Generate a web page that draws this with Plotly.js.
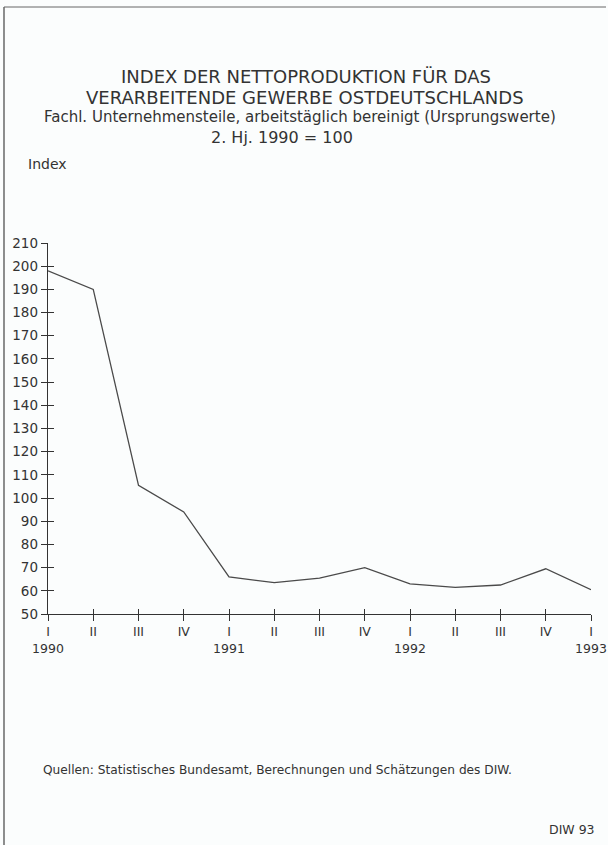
<!DOCTYPE html>
<html>
<head>
<meta charset="utf-8">
<script src="https://cdn.plot.ly/plotly-3.0.1.min.js"></script>
<style>html,body{margin:0;padding:0;background:#fbfdfd;}#chart{width:608px;height:845px;}</style>
</head>
<body>
<div id="chart"></div>
<script>
// Data
const periods = [0,1,2,3,4,5,6,7,8,9,10,11,12];
const quarterLabels = ["I<br>1990","II","III","IV","I<br>1991","II","III","IV","I<br>1992","II","III","IV","I<br>1993"];
const indexValues = [198, 190, 105.5, 94, 66, 63.5, 65.5, 70, 63, 61.5, 62.5, 69.5, 60.5];
const yTicks = [50,60,70,80,90,100,110,120,130,140,150,160,170,180,190,200,210];

const FONT = "DejaVu Sans, Liberation Sans, sans-serif";
const INK = "#333333";
// plot area: x 48..591, y 243..614 (px)
const plotTop = 243, plotBottom = 614, plotH = plotBottom - plotTop;
const py = p => (plotBottom - p) / plotH;
const px = p => (p - 48) / (591 - 48);

const trace = {
  x: periods, y: indexValues, type: "scatter", mode: "lines",
  line: {color: "#4a4a4a", width: 1.3}, hoverinfo: "skip", showlegend: false
};
const ghost = {x: periods, y: indexValues, xaxis: "x2", yaxis: "y2", type: "scatter",
  mode: "none", hoverinfo: "skip", showlegend: false};

const ann = (text, x, y, size, xanchor) => ({
  text, x, y, xref: "paper", yref: "paper", xanchor: xanchor || "center", yanchor: "middle",
  showarrow: false, font: {family: FONT, size, color: INK}
});

const layout = {
  width: 608, height: 845,
  paper_bgcolor: "#fbfdfd", plot_bgcolor: "#fbfdfd",
  margin: {l: 48, r: 17, t: plotTop, b: 845 - plotBottom, pad: 0},
  font: {family: FONT, color: INK},
  xaxis: {
    range: [0, 12], tickmode: "array", tickvals: periods, ticktext: quarterLabels,
    ticks: "outside", ticklen: 6, tickwidth: 1, tickcolor: INK, ticklabeloverflow: "allow",
    showline: true, linecolor: INK, linewidth: 1.3, showgrid: false, zeroline: false,
    tickfont: {family: FONT, size: 12.5, color: INK}, fixedrange: true
  },
  yaxis: {
    range: [50, 210], tickmode: "array", tickvals: yTicks,
    ticks: "outside", ticklen: 6, tickwidth: 1, tickcolor: INK,
    showline: true, linecolor: INK, linewidth: 1.3, showgrid: false, zeroline: false,
    tickfont: {family: FONT, size: 13.5, color: INK}, fixedrange: true
  },
  xaxis2: {range: [0, 12], overlaying: "x", tickmode: "array", tickvals: periods, showticklabels: false,
    ticks: "inside", ticklen: 5, tickwidth: 1, tickcolor: INK, showgrid: false, zeroline: false, showline: false, fixedrange: true},
  yaxis2: {range: [50, 210], overlaying: "y", tickmode: "array", tickvals: yTicks, showticklabels: false,
    ticks: "inside", ticklen: 6, tickwidth: 1, tickcolor: INK, showgrid: false, zeroline: false, showline: false, fixedrange: true},
  annotations: [
    ann("INDEX DER NETTOPRODUKTION FÜR DAS", px(306), py(76.5), 18),
    ann("VERARBEITENDE GEWERBE OSTDEUTSCHLANDS", px(305), py(98), 18),
    ann("Fachl. Unternehmensteile, arbeitstäglich bereinigt (Ursprungswerte)", px(300), py(117.5), 15),
    ann("2. Hj. 1990 = 100", px(282), py(137.5), 16),
    ann("Index", px(26), py(164), 14, "left"),
    ann("Quellen: Statistisches Bundesamt, Berechnungen und Schätzungen des DIW.", px(277), py(770), 12.2),
    ann("DIW 93", px(597), py(829), 12.5, "right")
  ],
  shapes: [
    {type: "line", xref: "paper", yref: "paper", x0: px(4), x1: px(4), y0: py(7), y1: py(845), line: {color: "#444", width: 1.2}},
    {type: "line", xref: "paper", yref: "paper", x0: px(4), x1: px(606), y0: py(7), y1: py(7), line: {color: "#666", width: 1}}
  ]
};

Plotly.newPlot("chart", [trace, ghost], layout, {displayModeBar: false, staticPlot: true});
</script>
</body>
</html>
